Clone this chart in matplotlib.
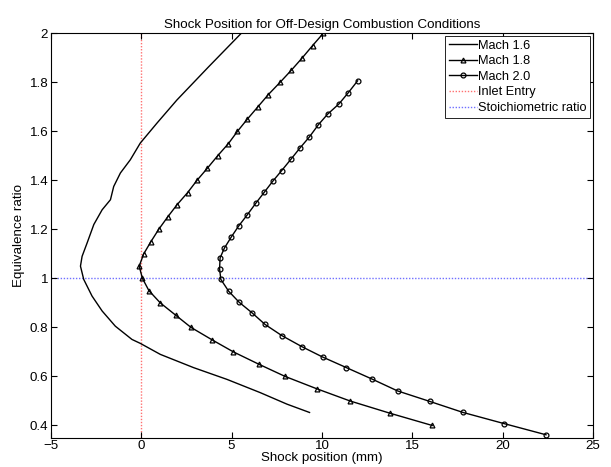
import numpy as np
import matplotlib.pyplot as plt

plt.rcParams['font.family'] = ['Liberation Sans', 'DejaVu Sans']

# Mach 1.6 (solid line, no markers) - shock position (mm) vs equivalence ratio
phi_16 = [2.0, 1.863, 1.728, 1.634, 1.552, 1.484, 1.43, 1.375, 1.321, 1.28, 1.22,
          1.145, 1.09, 1.05, 0.996, 0.928, 0.867, 0.805, 0.751, 0.735, 0.69,
          0.636, 0.588, 0.534, 0.487, 0.453]
x_16 = [5.53, 3.72, 1.97, 0.87, -0.06, -0.61, -1.16, -1.53, -1.71, -2.17, -2.63,
        -3.0, -3.28, -3.37, -3.19, -2.73, -2.17, -1.44, -0.52, -0.06, 1.05,
        2.89, 4.74, 6.58, 8.06, 9.31]

# Mach 1.8 (triangles)
phi_18 = [2.0, 1.95, 1.9, 1.85, 1.8, 1.75, 1.7, 1.65, 1.6, 1.55, 1.5, 1.45, 1.4,
          1.35, 1.3, 1.25, 1.2, 1.15, 1.1, 1.05, 1.0, 0.95, 0.9, 0.85, 0.8, 0.75,
          0.7, 0.65, 0.6, 0.55, 0.5, 0.45, 0.4]
x_18 = [10.07, 9.48, 8.91, 8.31, 7.68, 7.03, 6.45, 5.87, 5.32, 4.82, 4.22, 3.66,
        3.08, 2.56, 1.97, 1.45, 0.96, 0.53, 0.13, -0.12, 0.06, 0.42, 1.05, 1.9,
        2.75, 3.9, 5.1, 6.5, 7.96, 9.7, 11.55, 13.76, 16.1]

# Mach 2.0 (circles)
phi_20 = [1.806, 1.758, 1.712, 1.67, 1.627, 1.577, 1.532, 1.487, 1.44, 1.396,
          1.351, 1.308, 1.26, 1.213, 1.168, 1.124, 1.084, 1.039, 0.996, 0.948,
          0.903, 0.86, 0.812, 0.767, 0.721, 0.679, 0.636, 0.59, 0.541, 0.498,
          0.453, 0.408, 0.362]
x_20 = [11.97, 11.46, 10.94, 10.31, 9.8, 9.3, 8.78, 8.29, 7.77, 7.27, 6.8, 6.35,
        5.87, 5.38, 4.97, 4.6, 4.36, 4.33, 4.4, 4.83, 5.41, 6.12, 6.85, 7.77,
        8.9, 10.04, 11.35, 12.75, 14.18, 15.97, 17.81, 20.06, 22.4]

fig = plt.figure(figsize=(6.11, 4.67), dpi=100)
ax = fig.add_axes([0.0835, 0.0627, 0.887, 0.866])

ax.plot(x_16, phi_16, '-', color='k', lw=1.0, label='Mach 1.6')
ax.plot(x_18, phi_18, '-^', color='k', lw=1.0, ms=3.5, mfc='none', mew=0.9,
        label='Mach 1.8')
ax.plot(x_20, phi_20, '-o', color='k', lw=1.0, ms=3.5, mfc='none', mew=0.9,
        label='Mach 2.0')
ax.axvline(0, color='#ff7070', ls=(0, (1, 1.2)), lw=1.0, label='Inlet Entry', zorder=1)
ax.axhline(1, color='#7070ff', ls=(0, (1, 1.2)), lw=1.0, label='Stoichiometric ratio',
           zorder=1)

ax.set_xlim(-5, 25)
ax.set_ylim(0.35, 2)
ax.set_xticks(np.arange(-5, 26, 5))
ax.set_yticks([0.4, 0.6, 0.8, 1, 1.2, 1.4, 1.6, 1.8, 2])
ax.set_yticklabels(['0.4', '0.6', '0.8', '1', '1.2', '1.4', '1.6', '1.8', '2'])
ax.tick_params(direction='in', top=True, right=True, labelsize=9.6, length=4, pad=2)
for s in ax.spines.values():
    s.set_linewidth(0.8)

ax.set_title('Shock Position for Off-Design Combustion Conditions', fontsize=9.6, pad=4)
ax.set_xlabel('Shock position (mm)', fontsize=9.6, labelpad=0)
ax.set_ylabel('Equivalence ratio', fontsize=9.6, labelpad=3)

leg = ax.legend(loc='upper right', fontsize=9.2, fancybox=False, edgecolor='k',
                framealpha=1, borderaxespad=0.2, handlelength=2.2,
                handletextpad=0.1, labelspacing=0.28, borderpad=0.3,
                numpoints=1)
leg.get_frame().set_linewidth(0.6)

fig.savefig('out.png', dpi=100)
